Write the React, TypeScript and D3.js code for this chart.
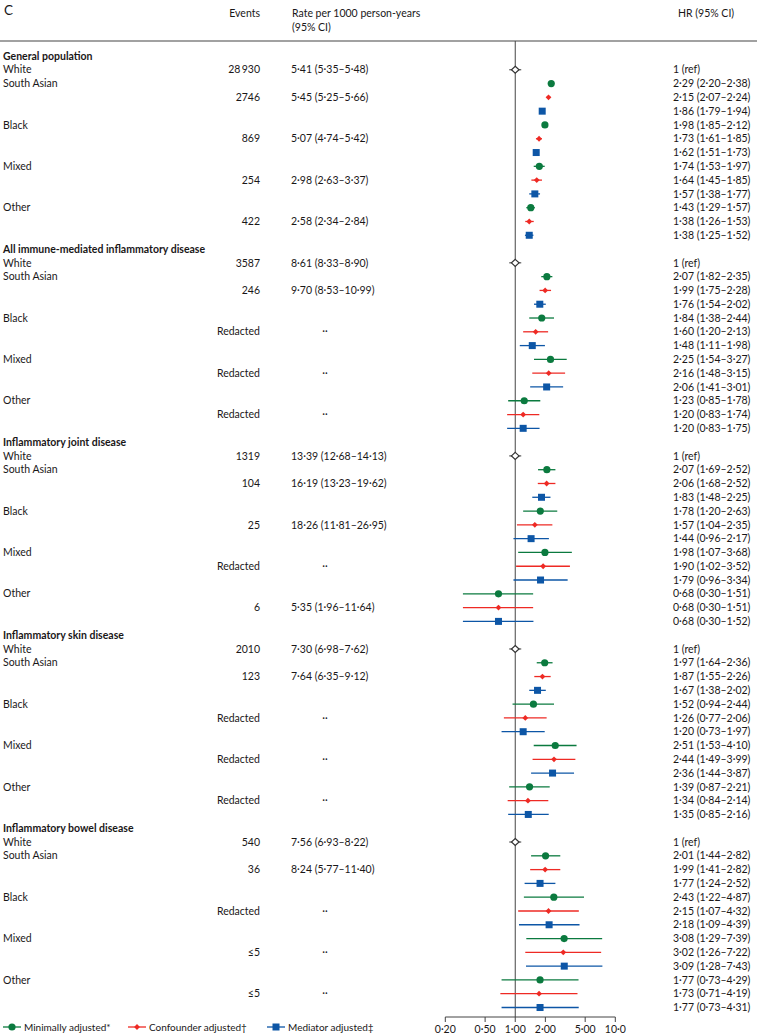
import React from "react";
import * as d3 from "d3";

const sections = [
  "General population",
  "All immune-mediated inflammatory disease",
  "Inflammatory joint disease",
  "Inflammatory skin disease",
  "Inflammatory bowel disease",
];
const groups = ["South Asian", "Black", "Mixed", "Other"];
const whiteEvents = ["28\u2009930", "3587", "1319", "2010", "540"];
const whiteRates = [
  "5·41 (5·35–5·48)",
  "8·61 (8·33–8·90)",
  "13·39 (12·68–14·13)",
  "7·30 (6·98–7·62)",
  "7·56 (6·93–8·22)",
];
const groupEvents = [
  ["2746", "869", "254", "422"],
  ["246", "Redacted", "Redacted", "Redacted"],
  ["104", "25", "Redacted", "6"],
  ["123", "Redacted", "Redacted", "Redacted"],
  ["36", "Redacted", "≤5", "≤5"],
];
const groupRates = [
  ["5·45 (5·25–5·66)", "5·07 (4·74–5·42)", "2·98 (2·63–3·37)", "2·58 (2·34–2·84)"],
  ["9·70 (8·53–10·99)", "··", "··", "··"],
  ["16·19 (13·23–19·62)", "18·26 (11·81–26·95)", "··", "5·35 (1·96–11·64)"],
  ["7·64 (6·35–9·12)", "··", "··", "··"],
  ["8·24 (5·77–11·40)", "··", "··", "··"],
];
// [HR, lower, upper] per section, per group (South Asian, Black, Mixed, Other)
const minimallyAdjusted = [
  [[2.29, 2.2, 2.38], [1.98, 1.85, 2.12], [1.74, 1.53, 1.97], [1.43, 1.29, 1.57]],
  [[2.07, 1.82, 2.35], [1.84, 1.38, 2.44], [2.25, 1.54, 3.27], [1.23, 0.85, 1.78]],
  [[2.07, 1.69, 2.52], [1.78, 1.2, 2.63], [1.98, 1.07, 3.68], [0.68, 0.3, 1.51]],
  [[1.97, 1.64, 2.36], [1.52, 0.94, 2.44], [2.51, 1.53, 4.1], [1.39, 0.87, 2.21]],
  [[2.01, 1.44, 2.82], [2.43, 1.22, 4.87], [3.08, 1.29, 7.39], [1.77, 0.73, 4.29]],
];
const confounderAdjusted = [
  [[2.15, 2.07, 2.24], [1.73, 1.61, 1.85], [1.64, 1.45, 1.85], [1.38, 1.26, 1.53]],
  [[1.99, 1.75, 2.28], [1.6, 1.2, 2.13], [2.16, 1.48, 3.15], [1.2, 0.83, 1.74]],
  [[2.06, 1.68, 2.52], [1.57, 1.04, 2.35], [1.9, 1.02, 3.52], [0.68, 0.3, 1.51]],
  [[1.87, 1.55, 2.26], [1.26, 0.77, 2.06], [2.44, 1.49, 3.99], [1.34, 0.84, 2.14]],
  [[1.99, 1.41, 2.82], [2.15, 1.07, 4.32], [3.02, 1.26, 7.22], [1.73, 0.71, 4.19]],
];
const mediatorAdjusted = [
  [[1.86, 1.79, 1.94], [1.62, 1.51, 1.73], [1.57, 1.38, 1.77], [1.38, 1.25, 1.52]],
  [[1.76, 1.54, 2.02], [1.48, 1.11, 1.98], [2.06, 1.41, 3.01], [1.2, 0.83, 1.75]],
  [[1.83, 1.48, 2.25], [1.44, 0.96, 2.17], [1.79, 0.96, 3.34], [0.68, 0.3, 1.52]],
  [[1.67, 1.38, 2.02], [1.2, 0.73, 1.97], [2.36, 1.44, 3.87], [1.35, 0.85, 2.16]],
  [[1.77, 1.24, 2.52], [2.18, 1.09, 4.39], [3.09, 1.28, 7.43], [1.77, 0.73, 4.31]],
];
const tickValues = [0.2, 0.5, 1, 2, 5, 10];
const tickLabels = ["0·20", "0·50", "1·00", "2·00", "5·00", "10·0"];
const modelNames = ["Minimally adjusted*", "Confounder adjusted†", "Mediator adjusted‡"];

const W = 757;
const H = 1035;
const FONT = "Lato, 'Open Sans', sans-serif";
const FS = 10.5;
const GREEN = "#0b7a3f";
const RED = "#ee2a24";
const BLUE = "#0d56a6";
const colors = [GREEN, RED, BLUE];
const TXT = "#1a1718";

const fmt2 = (v: number) => d3.format(".2f")(v).replace(".", "·");
const fmtHR = (r: number[]) => `${fmt2(r[0])} (${fmt2(r[1])}–${fmt2(r[2])})`;

function Marker({ model, x, y }: { model: number; x: number; y: number }) {
  const c = colors[model];
  if (model === 0) return <circle cx={x} cy={y} r={3.6} fill={c} />;
  if (model === 1) {
    const s = 2.9;
    return <path d={`M${x},${y - s}L${x + s},${y}L${x},${y + s}L${x - s},${y}Z`} fill={c} />;
  }
  return <rect x={x - 3.5} y={y - 3.5} width={7} height={7} fill={c} />;
}

export default function App() {
  const x = d3.scaleLog().domain([0.2, 10]).range([445.3, 615.3]);
  const rowH = 13.79;
  const y0 = 56;
  const yOf = (idx: number) => y0 + idx * rowH;
  const models = [minimallyAdjusted, confounderAdjusted, mediatorAdjusted];
  const axisY = 1017;

  const els: React.ReactNode[] = [];
  sections.forEach((sec, s) => {
    const base = s * 14;
    els.push(
      <text key={`h${s}`} x={3} y={yOf(base)} dy="0.35em" fontWeight={700}>
        {sec}
      </text>
    );
    const wy = yOf(base + 1);
    els.push(
      <g key={`w${s}`}>
        <text x={3} y={wy} dy="0.35em">White</text>
        <text x={260} y={wy} dy="0.35em" textAnchor="end">{whiteEvents[s]}</text>
        <text x={291} y={wy} dy="0.35em">{whiteRates[s]}</text>
        <line x1={x(1) - 6} x2={x(1) + 6} y1={wy} y2={wy} stroke="#333" strokeWidth={1} />
        <path
          d={`M${x(1)},${wy - 3.5}L${x(1) + 3.8},${wy}L${x(1)},${wy + 3.5}L${x(1) - 3.8},${wy}Z`}
          fill="#fff"
          stroke="#333"
          strokeWidth={1.2}
        />
        <text x={673} y={wy} dy="0.35em">1 (ref)</text>
      </g>
    );
    groups.forEach((g, gi) => {
      const first = base + 2 + gi * 3;
      els.push(
        <g key={`g${s}-${gi}`}>
          <text x={3} y={yOf(first)} dy="0.35em">{g}</text>
          <text x={260} y={yOf(first + 1)} dy="0.35em" textAnchor="end">{groupEvents[s][gi]}</text>
          <text
            x={groupRates[s][gi] === "··" ? 325 : 291}
            y={yOf(first + 1)}
            dy="0.35em"
            textAnchor={groupRates[s][gi] === "··" ? "middle" : "start"}
          >
            {groupRates[s][gi]}
          </text>
        </g>
      );
      models.forEach((m, mi) => {
        const r = m[s][gi];
        const yy = yOf(first + mi);
        els.push(
          <g key={`m${s}-${gi}-${mi}`}>
            <line x1={x(r[1])} x2={x(r[2])} y1={yy} y2={yy} stroke={colors[mi]} strokeWidth={1.3} />
            <Marker model={mi} x={x(r[0])} y={yy} />
            <text x={673} y={yy} dy="0.35em">{fmtHR(r)}</text>
          </g>
        );
      });
    });
  });

  const legendX = [3, 128, 267];
  return (
    <svg
      width={W}
      height={H}
      style={{ position: "absolute", left: 0, top: 0, background: "#fff" }}
      fontFamily={FONT}
      fontSize={FS}
      fill={TXT}
    >
      <rect x={0} y={0} width={W} height={H} fill="#fff" />
      <text x={4} y={10} dy="0.35em" fontSize={13.5}>C</text>
      <text x={260} y={13} dy="0.35em" textAnchor="end">Events</text>
      <text x={292} y={13} dy="0.35em">Rate per 1000 person-years</text>
      <text x={292} y={27} dy="0.35em">(95% CI)</text>
      <text x={678} y={13} dy="0.35em">HR (95% CI)</text>
      <line x1={0} x2={W} y1={41} y2={41} stroke="#444" strokeWidth={1.2} />
      <line x1={x(1)} x2={x(1)} y1={41} y2={axisY} stroke="#444" strokeWidth={1} />
      {els}
      <g>
        <line x1={x(0.2)} x2={x(10)} y1={axisY} y2={axisY} stroke="#444" strokeWidth={1} />
        {tickValues.map((t, i) => (
          <g key={`t${i}`}>
            <line x1={x(t)} x2={x(t)} y1={axisY} y2={axisY + 5} stroke="#444" strokeWidth={1} />
            <text x={x(t)} y={axisY + 12.5} dy="0.35em" textAnchor="middle">{tickLabels[i]}</text>
          </g>
        ))}
      </g>
      {modelNames.map((n, i) => (
        <g key={`l${i}`}>
          <line x1={legendX[i]} x2={legendX[i] + 18} y1={1027} y2={1027} stroke={colors[i]} strokeWidth={1.3} />
          <Marker model={i} x={legendX[i] + 9} y={1027} />
          <text x={legendX[i] + 21} y={1027} dy="0.35em" fontSize={10}>{n}</text>
        </g>
      ))}
    </svg>
  );
}
